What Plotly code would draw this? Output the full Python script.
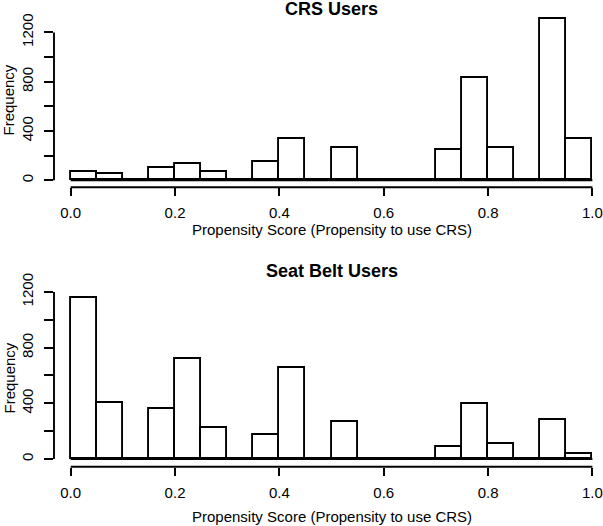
import plotly.graph_objects as go

# ---- data ----
BIN_START = [0.00, 0.05, 0.10, 0.15, 0.20, 0.25, 0.30, 0.35, 0.40, 0.45,
             0.50, 0.55, 0.60, 0.65, 0.70, 0.75, 0.80, 0.85, 0.90, 0.95]
BIN_WIDTH = 0.05
CRS_COUNTS = [65, 49, 0, 103, 130, 65, 0, 151, 336, 0,
              263, 0, 0, 0, 246, 829, 263, 0, 1311, 336]
BELT_COUNTS = [1157, 400, 0, 359, 716, 225, 0, 172, 654, 0,
               268, 0, 0, 0, 84, 395, 108, 0, 280, 36]
X_TICKS = [0.0, 0.2, 0.4, 0.6, 0.8, 1.0]
X_TICK_TEXT = ["0.0", "0.2", "0.4", "0.6", "0.8", "1.0"]
Y_TICKS = [0, 200, 400, 600, 800, 1000, 1200]
Y_TICK_TEXT = ["0", "", "400", "", "800", "", "1200"]
TITLES = ["CRS Users", "Seat Belt Users"]
X_TITLE = "Propensity Score (Propensity to use CRS)"
Y_TITLE = "Frequency"

W, H = 603, 526
FONT = "Liberation Sans, Arial, sans-serif"
LW = 1.9


def py(px):
    return 1 - px / H


def pxx(px):
    return px / W


fig = go.Figure()
centers = [s + BIN_WIDTH / 2 for s in BIN_START]
for counts, xa, ya in [(CRS_COUNTS, "x", "y"), (BELT_COUNTS, "x2", "y2")]:
    fig.add_trace(go.Bar(
        x=centers, y=counts, width=[BIN_WIDTH] * len(counts),
        marker=dict(color="white", line=dict(color="black", width=LW)),
        xaxis=xa, yaxis=ya, showlegend=False, hoverinfo="x+y"))

x_range = [-0.032, 1.0203]
axis_common_x = dict(range=x_range, showgrid=False, zeroline=False, showline=False,
                     automargin=False,
                     tickvals=X_TICKS, ticktext=X_TICK_TEXT, ticks="outside",
                     ticklen=8, tickwidth=LW, tickcolor="black",
                     tickfont=dict(family=FONT, size=15, color="black"),
                     ticklabelstandoff=4, domain=[pxx(54), 1])
axis_common_y = dict(showgrid=False, zeroline=False, showline=False,
                     automargin=False,
                     tickvals=Y_TICKS, ticktext=Y_TICK_TEXT, ticks="outside",
                     ticklen=9, tickwidth=LW, tickcolor="black", tickangle=-90,
                     tickfont=dict(family=FONT, size=15, color="black"),
                     ticklabelstandoff=5)

fig.update_layout(
    template="none",
    width=W, height=H,
    margin=dict(l=0, r=0, t=0, b=0, pad=0, autoexpand=False),
    paper_bgcolor="white", plot_bgcolor="white",
    bargap=0, showlegend=False,
    xaxis=dict(**axis_common_x, anchor="y"),
    yaxis=dict(**axis_common_y, anchor="x", range=[-56, 1366],
               domain=[py(187.2), py(12)]),
    xaxis2=dict(**axis_common_x, anchor="y2"),
    yaxis2=dict(**axis_common_y, anchor="x2", range=[-55.3, 1214],
                domain=[py(466.7), py(290)]),
)

shapes = []
for xa, ya in [("x", "y"), ("x2", "y2")]:
    # x axis line (0 to 1) at bottom of plot area
    shapes.append(dict(type="line", xref=xa, yref=ya + " domain",
                       x0=X_TICKS[0], x1=X_TICKS[-1], y0=0, y1=0,
                       line=dict(color="black", width=LW)))
    # y axis line (0 to 1200) at left of plot area
    shapes.append(dict(type="line", xref=xa + " domain", yref=ya,
                       x0=0, x1=0, y0=Y_TICKS[0], y1=Y_TICKS[-1],
                       line=dict(color="black", width=LW)))
    # histogram baseline (zero-height bins)
    shapes.append(dict(type="line", xref=xa, yref=ya,
                       x0=BIN_START[0], x1=BIN_START[-1] + BIN_WIDTH, y0=0, y1=0,
                       line=dict(color="black", width=LW)))
fig.update_layout(shapes=shapes)

annotations = []
center_x = pxx(70.7 + 0.5 * 521.7)
for title, ty, xt_y, yt_y in [(TITLES[0], 8.5, 229.3, 100), (TITLES[1], 270.7, 516, 378)]:
    annotations.append(dict(text="<b>%s</b>" % title, xref="paper", yref="paper",
                            x=center_x, y=py(ty), showarrow=False,
                            xanchor="center", yanchor="middle",
                            font=dict(family=FONT, size=18, color="black")))
    annotations.append(dict(text=X_TITLE, xref="paper", yref="paper",
                            x=center_x, y=py(xt_y), showarrow=False,
                            xanchor="center", yanchor="middle",
                            font=dict(family=FONT, size=15, color="black")))
    annotations.append(dict(text=Y_TITLE, xref="paper", yref="paper",
                            x=pxx(8.5), y=py(yt_y), showarrow=False, textangle=-90,
                            xanchor="center", yanchor="middle",
                            font=dict(family=FONT, size=15, color="black")))
fig.update_layout(annotations=annotations)

fig.write_html("out.html",
               config={"displayModeBar": False},
               post_script="document.body.style.margin='0px';document.body.style.padding='0px';")
